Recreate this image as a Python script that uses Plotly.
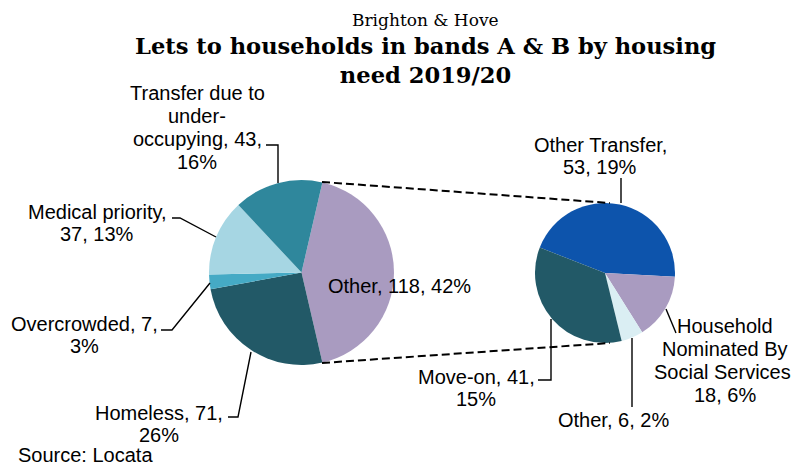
import plotly.graph_objects as go

# page body has an 8px margin, so the figure is drawn 8px smaller and shifted
OFF = 8
W, H = 799 - OFF, 468 - OFF

# main pie
main_names = ["Other", "Homeless", "Overcrowded", "Medical priority", "Transfer due to under-occupying"]
main_values = [118, 71, 7, 37, 43]
main_pct = [42, 26, 3, 13, 16]
main_colors = ["#A99BC0", "#225967", "#45AAC5", "#A6D6E3", "#2F879C"]

# breakdown of "Other"
sub_names = ["Other Transfer", "Household Nominated By Social Services", "Other", "Move-on"]
sub_values = [53, 18, 6, 41]
sub_pct = [19, 6, 2, 15]
sub_colors = ["#0D54AC", "#A99BC0", "#DAEEF3", "#225967"]


def px(x):
    return (x - OFF) / W


def py(y):
    return 1 - (y - OFF) / H


def dom(cx, cy, r):
    return dict(x=[px(cx - r), px(cx + r)], y=[py(cy + r), py(cy - r)])


fig = go.Figure()
fig.add_trace(go.Pie(
    labels=main_names, values=main_values, sort=False, direction="clockwise",
    rotation=90 - main_values[0] / sum(main_values) * 180,
    marker=dict(colors=main_colors, line=dict(width=0)),
    textinfo="none", hoverinfo="label+value", domain=dom(301.5, 272.5, 92.5),
    showlegend=False,
))
fig.add_trace(go.Pie(
    labels=sub_names, values=sub_values, sort=False, direction="clockwise",
    rotation=93 - sub_values[0] / sum(sub_values) * 360,
    marker=dict(colors=sub_colors, line=dict(width=0)),
    textinfo="none", hoverinfo="label+value", domain=dom(605, 273, 70),
    showlegend=False,
))

lab_font = dict(family="Liberation Sans, Arial", size=20, color="#000000")


def label(lines, x, y, step=23):
    for i, t in enumerate(lines):
        fig.add_annotation(x=px(x), y=py(y + i * step), xref="paper", yref="paper",
                           text=t, showarrow=False, xanchor="center", yanchor="middle",
                           font=lab_font)


def lbl(name, v, p):
    return f"{name}, {v}, {p}%"


# data labels, wrapped like the original
n, v, p = main_names, main_values, main_pct
label([lbl(n[0], v[0], p[0])], 399, 286)
label(["Transfer due to", "under-", f"occupying, {v[4]},", f"{p[4]}%"], 197, 93)
label([f"{n[3]},", f"{v[3]}, {p[3]}%"], 97, 212, 22)
label([f"{n[2]}, {v[2]},", f"{p[2]}%"], 84, 324, 22)
label([f"{n[1]}, {v[1]},", f"{p[1]}%"], 159, 413, 22)

n, v, p = sub_names, sub_values, sub_pct
label([f"{n[0]},", f"{v[0]}, {p[0]}%"], 600, 145, 22)
label(["Household", "Nominated By", "Social Services,", f"{v[1]}, {p[1]}%"], 725, 326, 23)
label([lbl(n[2], v[2], p[2])], 613, 420)
label([f"{n[3]}, {v[3]},", f"{p[3]}%"], 476, 377, 22)

fig.add_annotation(x=px(16), y=py(455), xref="paper", yref="paper", text="Source: Locata",
                   showarrow=False, xanchor="left", yanchor="middle", font=lab_font)

# titles
fig.add_annotation(x=px(425), y=py(20), xref="paper", yref="paper", text="Brighton & Hove",
                   showarrow=False, xanchor="center", yanchor="middle",
                   font=dict(family="DejaVu Serif", size=17, color="#000000"))
fig.add_annotation(x=px(425), y=py(60), xref="paper", yref="paper",
                   text="<b>Lets to households in bands A & B by housing<br>need 2019/20</b>",
                   showarrow=False, xanchor="center", yanchor="middle",
                   font=dict(family="DejaVu Serif", size=22.6, color="#000000"))

# leader lines
leaders = [
    [(266, 145), (278, 145), (278, 183)],
    [(172, 218), (180, 218), (216, 237)],
    [(161, 330), (172, 330), (210, 283)],
    [(228, 417), (238, 417), (251, 352)],
    [(621, 178), (621, 203)],
    [(666, 309), (676, 333)],
    [(538, 380), (551, 380), (551, 319)],
    [(632, 338), (632, 407)],
]
for pts in leaders:
    path = "M " + " L ".join(f"{px(a)},{py(b)}" for a, b in pts)
    fig.add_shape(type="path", path=path, xref="paper", yref="paper",
                  line=dict(color="#000000", width=1.4))

# connector lines between pies
for (x0, y0), (x1, y1) in [((322, 182), (610, 203)), ((322, 363), (610, 343))]:
    fig.add_shape(type="line", x0=px(x0), y0=py(y0), x1=px(x1), y1=py(y1),
                  xref="paper", yref="paper",
                  line=dict(color="#000000", width=2, dash="8px,4px"))

fig.update_layout(
    width=W, height=H,
    margin=dict(l=0, r=0, t=0, b=0),
    paper_bgcolor="#FFFFFF", plot_bgcolor="#FFFFFF",
)

fig.write_html("out.html")
